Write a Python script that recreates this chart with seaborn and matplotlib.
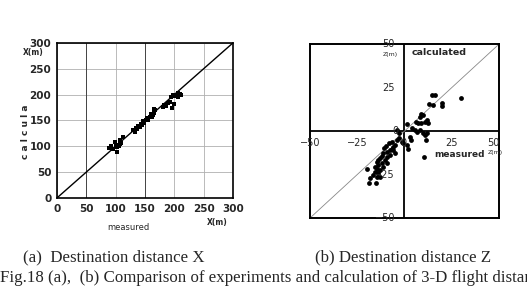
import numpy as np
import pandas as pd
import seaborn as sns
import matplotlib.pyplot as plt

# (a) destination distance X  [m]
x_measured = [88, 93, 96, 99, 100, 102, 103, 105, 107, 110, 113, 108,
              130, 133, 135, 137, 139, 141, 143, 145, 147, 149, 152, 154,
              156, 158, 160, 162, 164, 166, 168, 165, 160,
              181, 183, 186, 190, 193, 195, 197, 196, 199, 201, 204, 207, 210, 212, 206]
x_calculated = [97, 100, 95, 108, 103, 89, 98, 101, 104, 107, 118, 112,
                131, 128, 136, 133, 140, 138, 144, 141, 148, 146, 151, 155,
                150, 157, 158, 156, 161, 165, 170, 172, 163,
                176, 179, 178, 184, 186, 195, 199, 174, 182, 197, 199, 203, 202, 200, 196]

# (b) destination distance Z  [m]
z_measured = [14.5, 16, 13, 15, 19.7, 20, 29.7, 9, 10, 8, 6, 7.3, 9, 11, 12, 12.6,
              1.2, 3.8, 5.6, 6.8, 8.2, 10, 11, 12, 11.3, 2.9, 3.3, 1.2, 2, -1.5, -1,
              10.3, -3, -4,
              -5, -5.9, -6.8, -7.7, -9.4, -11.2, -12.1, -13, -13.8, -14.7, -13.8,
              -14.7, -15.6, -16.5, -14.7, -13, -20, -18.3, -5.9, -5, -7.7, -9.4,
              -10.3, -12.1, -11.2, -9.4, -13, -13.8, -15.6, -15, -19, -8, -6.5,
              -10, -11, -4, -3]
z_calculated = [20.7, 21, 15.5, 15, 16, 14.4, 19.3, 10, 9, 8, 5.4, 4.4, 4.8, 5.4, 6.3, 4.4,
                4, 1.5, 0.6, -0.4, 0.6, -1.3, -2.3, -1.3, -5.2, -3.3, -5.2, -8, -10, -6, -7,
                -14.7, -1.3, 0.6,
                -8, -9, -10, -10.9, -11.9, -12.8, -14.4, -15.7, -16.7, -17.6, -19.5,
                -21.5, -23.4, -25.3, -26.2, -26.2, -22, -27.2, -10.9, -12.8, -13.8, -14.8,
                -16.7, -18.6, -20.5, -18.6, -22.4, -24.3, -20.5, -30, -30, -7, -6,
                -8.5, -9.5, -5, -4]

x_ticks = [0, 50, 100, 150, 200, 250, 300]
z_ticks = [-50, -25, 0, 25, 50]

df_x = pd.DataFrame({"measured": x_measured, "calculated": x_calculated})
df_z = pd.DataFrame({"measured": z_measured, "calculated": z_calculated})

sns.set_theme(style="white")
fig = plt.figure(figsize=(5.27, 2.92), dpi=100)
tick_font = dict(family=["Liberation Sans Narrow", "DejaVu Sans"], weight="bold")

# ---- (a)
ax1 = fig.add_axes([0.108, 0.322, 0.334, 0.531])
sns.scatterplot(data=df_x, x="measured", y="calculated", ax=ax1, color="black",
                marker="s", s=7, linewidth=0, zorder=3)
ax1.set_xlim(0, 300)
ax1.set_ylim(0, 300)
ax1.set_xticks(x_ticks)
ax1.set_yticks(x_ticks)
ax1.set_axisbelow(True)
ax1.grid(True, which="major", color="#b0b0b0", lw=0.6, linestyle="-")
for v in [50, 150]:
    ax1.axvline(v, color="#444444", lw=0.7, zorder=1)
ax1.axline((0, 0), slope=1, color="black", lw=1.0, zorder=2)
for sp in ax1.spines.values():
    sp.set_color("black")
    sp.set_linewidth(1.2)
ax1.tick_params(length=0, pad=4)
ax1.set_xticklabels([str(t) for t in x_ticks], fontsize=7.5, **tick_font)
ax1.set_yticklabels([str(t) for t in x_ticks], fontsize=7.5, **tick_font)
ax1.set_xlabel("")
ax1.set_ylabel("")
fig.text(33 / 527, 1 - 53 / 292, "X(m)", fontsize=5.5, ha="center", va="center", **tick_font)
fig.text(217 / 527, 1 - 223 / 292, "X(m)", fontsize=5.5, ha="center", va="center", **tick_font)
fig.text(128 / 527, 1 - 227 / 292, "measured", fontsize=6, ha="center", va="center",
         family=["Liberation Sans Narrow", "DejaVu Sans"])
fig.text(26 / 527, 1 - 132 / 292, "c a l c u l a", fontsize=6.5, rotation=90,
         ha="center", va="center", **tick_font)

# ---- (b)
ax2 = fig.add_axes([0.588, 0.253, 0.359, 0.596])
ax2.axhline(0, color="black", lw=1.3)
ax2.axvline(0, color="black", lw=1.3)
ax2.axline((0, 0), slope=1, color="#888888", lw=0.6)
sns.scatterplot(data=df_z, x="measured", y="calculated", ax=ax2, color="black",
                marker="o", s=12, linewidth=0, zorder=3)
ax2.set_xlim(-50, 50)
ax2.set_ylim(-50, 50)
for sp in ax2.spines.values():
    sp.set_color("black")
    sp.set_linewidth(1.4)
ax2.set_xticks([])
ax2.set_yticks([])
ax2.set_xlabel("")
ax2.set_ylabel("")
lab_font = dict(family=["DejaVu Sans"], fontsize=7)
for t in z_ticks:
    if t == 50:
        ax2.text(t, -7, "50", ha="right", va="center", **lab_font)
    elif t != 0:
        ax2.text(t, -7, str(t).replace("-", "\u2212"), ha="center", va="center", **lab_font)
    if t != 0:
        ax2.text(-5, t, str(t).replace("-", "\u2212"), ha="right", va="center", **lab_font)
ax2.text(-3, 0.3, "0", ha="right", va="center", **lab_font)
ax2.text(-0.5, -7, "0", ha="center", va="center", **lab_font)
ax2.text(-7.5, 44, "Z(m)", ha="center", va="center", family=["DejaVu Sans"], fontsize=4.5)
ax2.text(4, 45, "calculated", ha="left", va="center", family=["DejaVu Sans"],
         fontsize=6.8, weight="bold")
ax2.text(16, -13.5, "measured", ha="left", va="center", family=["DejaVu Sans"],
         fontsize=6.5, weight="bold")
ax2.text(48, -12.5, "Z(m)", ha="center", va="center", family=["DejaVu Sans"], fontsize=4.5)

# ---- captions
serif = ["Liberation Serif", "DejaVu Serif"]
fig.text(23 / 527, 1 - 257 / 292, "(a)  Destination distance X", family=serif,
         fontsize=12.2, ha="left", va="center")
fig.text(315 / 527, 1 - 257 / 292, "(b) Destination distance Z", family=serif,
         fontsize=12.2, ha="left", va="center")
fig.text(0.0, 1 - 278 / 292,
         "Fig.18 (a),  (b) Comparison of experiments and calculation of 3-D flight distance",
         family=serif, fontsize=12.2, ha="left", va="center")

fig.savefig("out.png", dpi=100, facecolor="white")
